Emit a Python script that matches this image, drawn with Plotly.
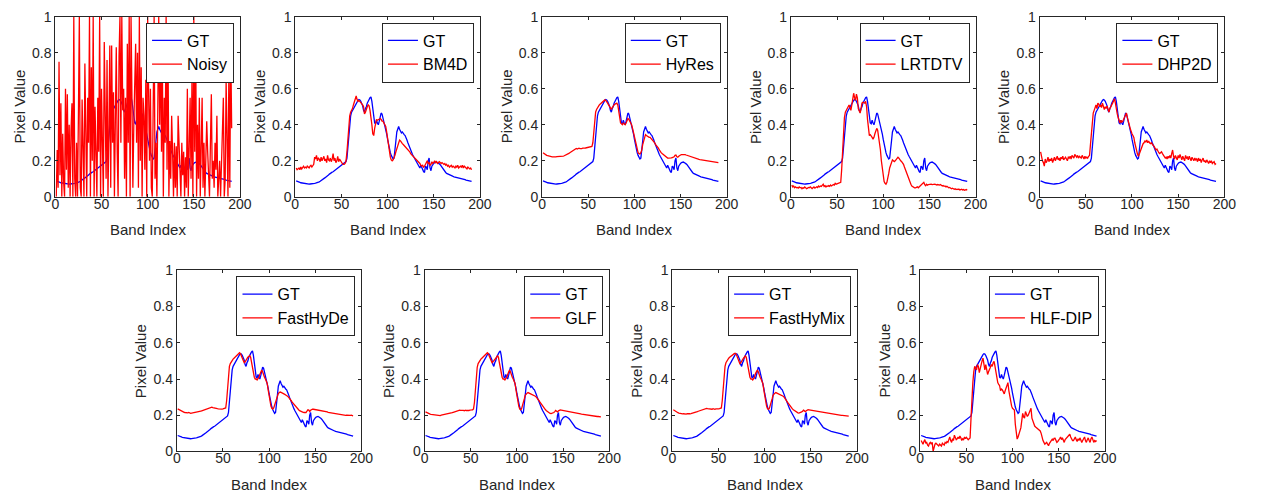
import plotly.graph_objects as go

# ---------------- data ----------------
gt = [
0.088,0.087,0.085,0.083,0.080,0.078,0.077,0.075,0.074,0.072,
0.071,0.070,0.069,0.069,0.070,0.071,0.071,0.072,0.073,0.074,
0.075,0.076,0.077,0.078,0.080,0.083,0.086,0.089,0.093,0.097,
0.101,0.105,0.109,0.112,0.116,0.121,0.126,0.131,0.134,0.137,
0.139,0.143,0.147,0.151,0.155,0.159,0.163,0.167,0.171,0.174,
0.178,0.182,0.186,0.190,0.196,0.215,0.27,0.35,0.41,0.45,
0.47,0.48,0.49,0.50,0.51,0.52,0.53,0.535,0.54,0.538,
0.53,0.52,0.505,0.48,0.47,0.49,0.50,0.52,0.535,0.54,
0.55,0.555,0.53,0.49,0.43,0.41,0.405,0.425,0.41,0.40,
0.42,0.44,0.465,0.46,0.44,0.42,0.40,0.38,0.35,0.32,
0.29,0.265,0.245,0.23,0.22,0.21,0.215,0.25,0.31,0.36,
0.38,0.39,0.375,0.36,0.355,0.36,0.35,0.345,0.34,0.33,
0.315,0.30,0.285,0.27,0.255,0.245,0.235,0.225,0.215,0.205,
0.20,0.19,0.18,0.17,0.16,0.175,0.16,0.15,0.14,0.135,
0.17,0.165,0.15,0.20,0.215,0.16,0.145,0.17,0.18,0.185,
0.19,0.192,0.193,0.19,0.188,0.183,0.178,0.17,0.16,0.152,
0.145,0.14,0.135,0.13,0.127,0.124,0.121,0.119,0.117,0.115,
0.113,0.111,0.11,0.108,0.107,0.106,0.105,0.104,0.102,0.101,
0.099,0.098,0.096,0.095,0.093,0.092,0.09,0.089,0.087,0.086,0.085]

noisy = [
0.0,0.26,0.05,0.75,0.12,0.52,0.0,0.35,0.08,0.0,
0.6,0.15,0.57,0.05,0.4,0.0,0.37,0.52,0.0,1.0,
0.1,0.0,0.3,0.0,0.45,1.0,0.05,0.0,0.54,0.2,
0.0,0.74,0.15,0.0,0.55,0.3,1.0,0.0,0.72,0.2,
1.0,0.0,0.5,0.1,0.0,0.55,0.25,1.0,0.0,0.6,
0.15,0.0,0.86,0.4,0.1,0.76,0.0,0.35,0.84,0.05,
0.84,0.3,0.58,0.0,0.45,0.83,0.25,0.0,0.78,1.0,
0.3,1.0,0.48,0.6,0.1,0.55,0.0,0.85,0.3,1.0,
0.0,1.0,0.55,0.05,0.4,0.7,0.85,0.3,0.8,0.05,
1.0,0.2,0.72,0.0,0.55,0.45,0.15,0.65,0.0,1.0,
0.35,0.2,0.6,0.05,0.0,0.5,1.0,0.1,0.3,0.0,
0.55,1.0,0.4,0.9,0.25,0.7,0.0,0.55,0.3,1.0,
0.15,0.88,0.0,0.31,0.1,0.45,0.25,0.0,0.3,0.05,
0.28,0.0,0.45,0.2,0.15,0.0,0.3,0.12,0.25,0.0,
0.22,0.05,0.6,0.0,0.3,0.55,0.1,0.65,0.0,1.0,
0.25,0.9,0.0,0.4,0.1,0.55,0.0,0.2,0.55,0.05,
0.3,0.0,0.15,0.42,0.25,0.08,0.0,0.3,0.57,0.1,
0.2,0.05,0.3,0.15,0.45,0.0,0.1,0.2,0.0,0.15,
0.3,0.55,0.0,0.1,0.65,0.2,0.0,0.72,0.05,0.85,0.38]

bm4d = [
0.16,0.15,0.155,0.16,0.15,0.165,0.155,0.16,0.17,0.16,
0.165,0.16,0.17,0.165,0.16,0.17,0.175,0.165,0.17,0.18,
0.22,0.21,0.23,0.20,0.215,0.21,0.195,0.22,0.20,0.21,
0.225,0.20,0.21,0.19,0.23,0.205,0.20,0.215,0.195,0.21,
0.24,0.20,0.215,0.19,0.20,0.225,0.195,0.21,0.20,0.19,
0.185,0.18,0.18,0.185,0.20,0.25,0.33,0.40,0.45,0.47,
0.48,0.49,0.51,0.53,0.55,0.56,0.54,0.53,0.535,0.53,
0.52,0.515,0.51,0.50,0.46,0.47,0.49,0.50,0.51,0.505,
0.48,0.45,0.40,0.35,0.34,0.38,0.42,0.43,0.425,0.43,
0.43,0.435,0.43,0.42,0.42,0.41,0.40,0.39,0.36,0.32,
0.28,0.245,0.22,0.205,0.20,0.205,0.215,0.23,0.25,0.27,
0.29,0.305,0.315,0.31,0.30,0.295,0.29,0.285,0.275,0.27,
0.265,0.26,0.255,0.25,0.24,0.235,0.23,0.225,0.215,0.21,
0.205,0.20,0.195,0.19,0.185,0.175,0.17,0.175,0.165,0.17,
0.18,0.19,0.20,0.185,0.19,0.175,0.18,0.195,0.185,0.19,
0.20,0.19,0.195,0.185,0.19,0.195,0.19,0.185,0.19,0.185,
0.18,0.185,0.175,0.18,0.17,0.175,0.165,0.17,0.175,0.165,
0.17,0.165,0.16,0.17,0.165,0.175,0.16,0.165,0.17,0.165,
0.175,0.16,0.17,0.165,0.16,0.155,0.165,0.16,0.155,0.16,0.15]

hyres = [
0.245,0.24,0.235,0.232,0.23,0.228,0.226,0.225,0.224,0.223,
0.222,0.222,0.221,0.222,0.222,0.223,0.223,0.222,0.223,0.224,
0.225,0.226,0.226,0.228,0.23,0.232,0.235,0.238,0.241,0.245,
0.249,0.252,0.256,0.26,0.263,0.266,0.268,0.265,0.268,0.27,
0.268,0.266,0.268,0.27,0.272,0.27,0.271,0.272,0.273,0.272,
0.274,0.275,0.277,0.28,0.30,0.36,0.43,0.47,0.485,0.495,
0.50,0.51,0.515,0.52,0.525,0.53,0.535,0.538,0.535,0.53,
0.52,0.51,0.50,0.49,0.485,0.495,0.505,0.51,0.515,0.52,
0.52,0.51,0.48,0.44,0.41,0.405,0.40,0.41,0.405,0.40,
0.41,0.42,0.435,0.43,0.42,0.41,0.40,0.38,0.355,0.33,
0.31,0.285,0.26,0.245,0.24,0.238,0.245,0.26,0.29,0.315,
0.335,0.345,0.34,0.335,0.335,0.33,0.33,0.325,0.32,0.315,
0.31,0.30,0.29,0.285,0.275,0.27,0.26,0.25,0.245,0.24,
0.235,0.23,0.225,0.222,0.218,0.215,0.215,0.214,0.215,0.216,
0.218,0.22,0.222,0.23,0.232,0.222,0.22,0.225,0.23,0.232,
0.234,0.235,0.236,0.235,0.234,0.232,0.23,0.228,0.226,0.224,
0.222,0.22,0.218,0.216,0.214,0.213,0.212,0.21,0.209,0.208,
0.207,0.206,0.205,0.204,0.203,0.202,0.201,0.20,0.199,0.198,
0.197,0.197,0.196,0.195,0.194,0.193,0.192,0.192,0.191,0.19,0.19]

lrtdtv = [
0.065,0.055,0.06,0.05,0.055,0.05,0.052,0.048,0.055,0.05,
0.052,0.045,0.05,0.048,0.055,0.05,0.045,0.048,0.052,0.05,
0.055,0.05,0.045,0.05,0.055,0.048,0.05,0.056,0.052,0.06,
0.055,0.06,0.058,0.065,0.07,0.058,0.062,0.055,0.06,0.058,
0.062,0.058,0.065,0.06,0.063,0.068,0.065,0.075,0.07,0.072,
0.07,0.075,0.078,0.08,0.15,0.25,0.38,0.44,0.47,0.48,
0.49,0.50,0.51,0.495,0.48,0.51,0.55,0.575,0.55,0.535,
0.57,0.55,0.49,0.47,0.465,0.49,0.52,0.525,0.52,0.52,
0.53,0.50,0.43,0.36,0.34,0.345,0.34,0.33,0.32,0.33,
0.35,0.375,0.38,0.37,0.34,0.30,0.26,0.20,0.15,0.11,
0.085,0.075,0.07,0.08,0.10,0.13,0.16,0.18,0.20,0.205,
0.20,0.195,0.20,0.205,0.21,0.22,0.215,0.205,0.20,0.195,
0.19,0.18,0.165,0.15,0.14,0.125,0.11,0.10,0.085,0.07,
0.06,0.055,0.052,0.05,0.05,0.052,0.055,0.05,0.055,0.058,
0.06,0.065,0.075,0.08,0.068,0.062,0.07,0.065,0.068,0.07,
0.072,0.07,0.068,0.07,0.072,0.07,0.068,0.065,0.068,0.066,
0.065,0.068,0.062,0.06,0.063,0.058,0.06,0.055,0.058,0.052,
0.05,0.052,0.048,0.045,0.048,0.044,0.042,0.045,0.04,0.042,
0.04,0.043,0.038,0.04,0.042,0.038,0.04,0.036,0.038,0.04,0.036]

dhp2d = [
0.25,0.22,0.20,0.19,0.17,0.21,0.19,0.20,0.22,0.195,
0.21,0.20,0.215,0.19,0.205,0.22,0.20,0.21,0.225,0.205,
0.215,0.20,0.22,0.21,0.225,0.205,0.215,0.22,0.21,0.20,
0.22,0.215,0.225,0.21,0.23,0.22,0.215,0.235,0.225,0.22,
0.23,0.215,0.225,0.22,0.215,0.23,0.22,0.21,0.225,0.215,
0.22,0.215,0.225,0.23,0.29,0.36,0.42,0.465,0.48,0.50,
0.51,0.49,0.52,0.515,0.50,0.51,0.495,0.52,0.50,0.485,
0.50,0.49,0.505,0.48,0.47,0.49,0.505,0.51,0.52,0.54,
0.545,0.52,0.48,0.46,0.44,0.42,0.41,0.425,0.415,0.42,
0.43,0.44,0.455,0.465,0.44,0.41,0.40,0.38,0.36,0.35,
0.34,0.33,0.30,0.27,0.25,0.235,0.225,0.24,0.26,0.27,
0.285,0.295,0.30,0.31,0.305,0.315,0.30,0.31,0.30,0.295,
0.30,0.29,0.285,0.28,0.27,0.26,0.265,0.25,0.245,0.24,
0.245,0.25,0.24,0.23,0.225,0.215,0.22,0.21,0.225,0.215,
0.23,0.215,0.24,0.26,0.225,0.21,0.23,0.22,0.205,0.23,
0.215,0.235,0.22,0.205,0.225,0.215,0.20,0.23,0.215,0.22,
0.205,0.225,0.21,0.20,0.22,0.21,0.20,0.215,0.205,0.21,
0.195,0.215,0.20,0.21,0.19,0.205,0.215,0.195,0.20,0.19,
0.205,0.195,0.185,0.20,0.19,0.20,0.185,0.19,0.195,0.18,0.185]

fasthyde = [
0.235,0.232,0.228,0.225,0.222,0.22,0.218,0.216,0.215,0.213,
0.212,0.213,0.215,0.212,0.21,0.211,0.212,0.21,0.211,0.213,
0.214,0.215,0.217,0.218,0.22,0.222,0.224,0.226,0.228,0.23,
0.232,0.234,0.236,0.238,0.24,0.242,0.243,0.244,0.242,0.24,
0.238,0.236,0.235,0.236,0.235,0.234,0.236,0.235,0.234,0.235,
0.236,0.238,0.24,0.28,0.36,0.43,0.47,0.485,0.495,0.505,
0.51,0.515,0.52,0.525,0.53,0.535,0.54,0.545,0.54,0.525,
0.51,0.50,0.49,0.495,0.505,0.51,0.52,0.525,0.53,0.52,
0.49,0.455,0.43,0.41,0.40,0.40,0.395,0.40,0.41,0.425,
0.44,0.45,0.44,0.42,0.41,0.40,0.39,0.375,0.34,0.30,
0.27,0.25,0.238,0.234,0.24,0.255,0.27,0.29,0.31,0.32,
0.325,0.328,0.326,0.322,0.32,0.318,0.315,0.312,0.31,0.305,
0.30,0.295,0.29,0.28,0.272,0.265,0.258,0.252,0.246,0.24,
0.235,0.23,0.225,0.222,0.22,0.218,0.216,0.215,0.213,0.215,
0.222,0.23,0.228,0.22,0.228,0.232,0.234,0.233,0.232,0.231,
0.232,0.233,0.232,0.23,0.229,0.228,0.227,0.226,0.224,0.222,
0.22,0.219,0.218,0.216,0.215,0.214,0.213,0.212,0.211,0.21,
0.209,0.208,0.207,0.206,0.205,0.204,0.204,0.203,0.202,0.201,
0.20,0.20,0.199,0.20,0.199,0.198,0.198,0.199,0.20,0.198,0.197]

glf = [
0.218,0.215,0.212,0.21,0.208,0.206,0.205,0.204,0.203,0.202,
0.20,0.201,0.199,0.198,0.20,0.199,0.198,0.20,0.201,0.20,
0.201,0.202,0.203,0.204,0.205,0.206,0.208,0.21,0.212,0.214,
0.216,0.218,0.22,0.222,0.224,0.225,0.226,0.228,0.227,0.228,
0.226,0.227,0.225,0.228,0.226,0.225,0.227,0.226,0.228,0.227,
0.229,0.23,0.235,0.27,0.35,0.42,0.465,0.485,0.495,0.505,
0.51,0.515,0.52,0.525,0.53,0.535,0.54,0.545,0.54,0.525,
0.51,0.50,0.49,0.495,0.50,0.505,0.515,0.52,0.53,0.52,
0.49,0.455,0.43,0.41,0.40,0.40,0.395,0.40,0.41,0.425,
0.44,0.45,0.44,0.42,0.41,0.40,0.39,0.375,0.34,0.30,
0.27,0.25,0.235,0.23,0.235,0.25,0.27,0.29,0.31,0.318,
0.322,0.325,0.323,0.32,0.318,0.316,0.314,0.312,0.31,0.305,
0.30,0.295,0.288,0.28,0.272,0.264,0.256,0.248,0.242,0.236,
0.23,0.225,0.22,0.216,0.213,0.21,0.209,0.21,0.212,0.215,
0.22,0.226,0.222,0.218,0.224,0.228,0.229,0.228,0.227,0.228,
0.229,0.228,0.227,0.226,0.225,0.224,0.223,0.222,0.22,0.219,
0.218,0.216,0.215,0.213,0.212,0.211,0.21,0.208,0.207,0.206,
0.205,0.204,0.203,0.202,0.201,0.20,0.199,0.198,0.198,0.197,
0.196,0.196,0.195,0.195,0.194,0.194,0.193,0.193,0.192,0.192,0.191]

fasthymix = [
0.23,0.226,0.222,0.219,0.216,0.214,0.212,0.21,0.209,0.208,
0.207,0.208,0.206,0.207,0.206,0.208,0.207,0.206,0.208,0.209,
0.21,0.211,0.212,0.214,0.216,0.218,0.22,0.222,0.224,0.226,
0.228,0.23,0.232,0.234,0.236,0.237,0.238,0.236,0.235,0.236,
0.234,0.235,0.233,0.236,0.234,0.233,0.235,0.234,0.236,0.235,
0.236,0.238,0.24,0.28,0.36,0.43,0.47,0.49,0.50,0.51,
0.515,0.52,0.525,0.53,0.535,0.538,0.54,0.542,0.538,0.525,
0.51,0.50,0.485,0.49,0.50,0.505,0.515,0.52,0.528,0.52,
0.49,0.455,0.43,0.41,0.40,0.40,0.395,0.40,0.41,0.43,
0.445,0.45,0.44,0.42,0.41,0.40,0.39,0.375,0.34,0.30,
0.27,0.25,0.236,0.232,0.238,0.252,0.27,0.29,0.31,0.318,
0.322,0.325,0.323,0.32,0.318,0.316,0.314,0.312,0.31,0.305,
0.30,0.294,0.286,0.278,0.27,0.262,0.254,0.247,0.241,0.235,
0.23,0.226,0.222,0.218,0.215,0.213,0.212,0.213,0.215,0.218,
0.222,0.228,0.224,0.22,0.225,0.229,0.231,0.23,0.229,0.23,
0.231,0.23,0.229,0.228,0.227,0.226,0.225,0.224,0.222,0.221,
0.22,0.218,0.217,0.216,0.214,0.213,0.212,0.211,0.21,0.209,
0.208,0.207,0.206,0.205,0.204,0.204,0.203,0.202,0.202,0.201,
0.20,0.20,0.199,0.199,0.198,0.198,0.197,0.197,0.196,0.196,0.195]

hlfdip = [
0.06,0.05,0.04,0.055,0.065,0.045,0.05,0.035,0.03,0.045,
0.05,0.04,0.05,0.0,0.03,0.04,0.045,0.04,0.035,0.03,
0.04,0.035,0.03,0.045,0.04,0.035,0.05,0.045,0.055,0.05,
0.065,0.08,0.06,0.05,0.07,0.06,0.09,0.075,0.065,0.07,
0.08,0.07,0.085,0.075,0.06,0.07,0.065,0.08,0.07,0.078,
0.072,0.065,0.07,0.075,0.18,0.30,0.38,0.44,0.47,0.46,
0.45,0.48,0.47,0.435,0.46,0.488,0.50,0.515,0.49,0.45,
0.48,0.46,0.425,0.44,0.45,0.465,0.48,0.47,0.49,0.497,
0.47,0.434,0.40,0.38,0.37,0.363,0.336,0.345,0.34,0.33,
0.318,0.335,0.354,0.37,0.38,0.336,0.30,0.265,0.25,0.238,
0.235,0.229,0.15,0.095,0.068,0.08,0.095,0.11,0.13,0.17,
0.21,0.19,0.184,0.22,0.205,0.193,0.20,0.21,0.225,0.238,
0.184,0.17,0.148,0.14,0.135,0.13,0.125,0.12,0.115,0.113,
0.10,0.077,0.06,0.05,0.04,0.045,0.05,0.04,0.032,0.045,
0.055,0.06,0.068,0.06,0.072,0.073,0.065,0.05,0.055,0.06,
0.07,0.08,0.065,0.075,0.06,0.05,0.065,0.07,0.077,0.085,
0.09,0.095,0.08,0.07,0.06,0.06,0.07,0.08,0.065,0.055,
0.07,0.06,0.075,0.065,0.05,0.06,0.07,0.08,0.06,0.05,
0.065,0.075,0.06,0.05,0.07,0.08,0.065,0.05,0.06,0.055,0.06]

method_names = ["Noisy", "BM4D", "HyRes", "LRTDTV", "DHP2D",
                "FastHyDe", "GLF", "FastHyMix", "HLF-DIP"]
method_values = [noisy, bm4d, hyres, lrtdtv, dhp2d,
                 fasthyde, glf, fasthymix, hlfdip]

x_tick_vals = [0, 50, 100, 150, 200]
x_tick_text = ["0", "50", "100", "150", "200"]
y_tick_vals = [0, 0.2, 0.4, 0.6, 0.8, 1]
y_tick_text = ["0", "0.2", "0.4", "0.6", "0.8", "1"]

# ---------------- layout geometry (pixels) ----------------
W, H = 1261, 503
PW = 187                       # plot width in px
top_lefts = [52, 295, 545, 797, 1049]
bot_lefts = [175, 426, 677, 928]
TOP_Y = (9, 195)
BOT_Y = (271, 458)
boxes = [(l, TOP_Y) for l in top_lefts] + [(l, BOT_Y) for l in bot_lefts]

FONT = "Liberation Sans, Arial, Helvetica, sans-serif"
TXT = "#262626"

fig = go.Figure()
layout = dict(
    width=W, height=H,
    margin=dict(l=0, r=0, t=0, b=0, pad=0),
    paper_bgcolor="white", plot_bgcolor="white",
    font=dict(family=FONT, color=TXT, size=14),
    annotations=[],
)

for i, ((left, (ytop, ybot)), name, vals) in enumerate(zip(boxes, method_names, method_values)):
    k = "" if i == 0 else str(i + 1)
    xa, ya = "x" + k, "y" + k
    leg = "legend" + k
    bands_gt = list(range(1, len(gt) + 1))
    bands_m = list(range(1, len(vals) + 1))
    fig.add_trace(go.Scatter(x=bands_gt, y=gt, mode="lines", name="GT",
                             line=dict(color="#0000FF", width=1.3),
                             xaxis=xa, yaxis=ya, legend=leg, showlegend=True))
    fig.add_trace(go.Scatter(x=bands_m, y=vals, mode="lines", name=name,
                             line=dict(color="#FF0000", width=1.3),
                             xaxis=xa, yaxis=ya, legend=leg, showlegend=True))

    x0, x1 = left / W, (left + PW) / W
    y0, y1 = 1 - ybot / H, 1 - ytop / H
    axis_common = dict(showline=True, linecolor=TXT, linewidth=1, mirror="allticks",
                       ticks="inside", ticklen=3, tickwidth=1, tickcolor=TXT,
                       showgrid=False, zeroline=False,
                       tickfont=dict(family=FONT, size=14, color=TXT))
    layout["xaxis" + k] = dict(domain=[x0, x1], anchor=ya, range=[0, 200],
                               tickvals=x_tick_vals, ticktext=x_tick_text,
                               ticklabelstandoff=-6, **axis_common)
    layout["yaxis" + k] = dict(domain=[y0, y1], anchor=xa, range=[0, 1],
                               tickvals=y_tick_vals, ticktext=y_tick_text, **axis_common)
    layout[leg] = dict(x=(left + PW - 6) / W, y=1 - (ytop + 6) / H,
                       xanchor="right", yanchor="top",
                       bgcolor="white", bordercolor="#262626", borderwidth=1,
                       font=dict(family=FONT, size=16, color="#000000"),
                       itemwidth=30, tracegroupgap=0)
    # axis titles
    layout["annotations"].append(dict(
        text="Band Index", x=(left + PW / 2) / W, y=1 - (ybot + 34) / H,
        xref="paper", yref="paper", showarrow=False,
        xanchor="center", yanchor="middle",
        font=dict(family=FONT, size=15, color=TXT)))
    layout["annotations"].append(dict(
        text="Pixel Value", x=(left - 36) / W, y=1 - ((ytop + ybot) / 2) / H,
        xref="paper", yref="paper", showarrow=False, textangle=-90,
        xanchor="center", yanchor="middle",
        font=dict(family=FONT, size=15, color=TXT)))

fig.update_layout(**layout)
fig.write_html("out.html", config={"displayModeBar": False},
               post_script="document.body.style.margin='0';document.body.style.overflow='hidden';")
